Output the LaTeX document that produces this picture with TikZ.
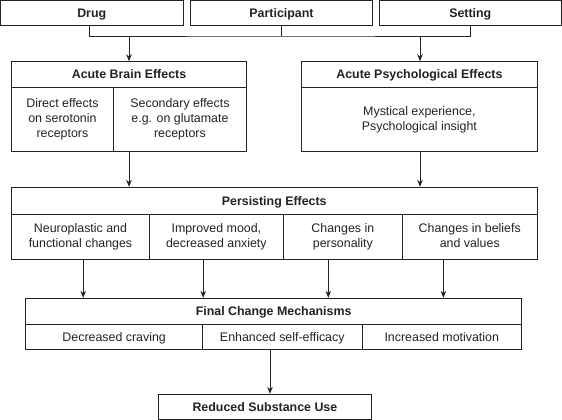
\documentclass[tikz,border=0pt]{standalone}
\usepackage{fontspec}
\setmainfont{Liberation Sans}
\usetikzlibrary{arrows.meta}
\definecolor{ink}{HTML}{222222}
\newcommand\cellstrut{\rule[-2.5pt]{0pt}{13.9pt}}
\tikzset{
  cell/.style={draw=ink, line width=0.9pt, inner sep=0pt, align=center, text=ink,
    font=\fontsize{12.4}{15}\selectfont,
    execute at begin node=\cellstrut, execute at end node=\cellstrut},
  head/.style={cell, font=\fontsize{12.4}{15}\selectfont\bfseries},
  conn/.style={draw=ink, line width=0.9pt},
  arr/.style={conn, -{Stealth[length=7pt,width=5.5pt]}}
}
\begin{document}
\begin{tikzpicture}[x=1pt,y=-1pt]
\useasboundingbox (0,0) rectangle (562,420);
% top row
\node[head, minimum width=182.5, minimum height=24.4] (drug) at (91.75,12.8) {Drug};
\node[head, minimum width=182.5, minimum height=24.4] (part) at (281.5,12.8) {Participant};
\node[head, minimum width=182.3, minimum height=24.4] (sett) at (470.3,12.8) {Setting};
\coordinate (j) at (282,36);
% acute brain
\node[head, minimum width=235.1, minimum height=25.6] (brainh) at (129,74.5) {Acute Brain Effects};
\node[cell, minimum width=101.8, minimum height=64.4] (brain1) at (62.4,119.5) {Direct effects\\on serotonin\\receptors};
\node[cell, minimum width=133.3, minimum height=64.4] (brain2) at (179.95,119.5) {Secondary effects\\e.g. on glutamate\\receptors};
% acute psych
\node[head, minimum width=235.2, minimum height=25.6] (psyh) at (419.4,74.5) {Acute Psychological Effects};
\node[cell, minimum width=235.2, minimum height=64.4] (psyb) at (419.4,119.5) {Mystical experience,\\Psychological insight};
% persisting
\node[head, minimum width=525.5, minimum height=26.7] (perh) at (274.25,200.65) {Persisting Effects};
\node[cell, minimum width=138, minimum height=45] (p1) at (80.5,236.5) {Neuroplastic and\\functional changes};
\node[cell, minimum width=133.7, minimum height=45] (p2) at (216.35,236.5) {Improved mood,\\decreased anxiety};
\node[cell, minimum width=119.3, minimum height=45] (p3) at (342.85,236.5) {Changes in\\personality};
\node[cell, minimum width=134.5, minimum height=45] (p4) at (469.75,236.5) {Changes in beliefs\\and values};
% final
\node[head, minimum width=495.7, minimum height=26] (finh) at (273.65,311.3) {Final Change Mechanisms};
\node[cell, minimum width=176.7, minimum height=24.7] (f1) at (114.15,336.65) {Decreased craving};
\node[cell, minimum width=159.5, minimum height=24.7] (f2) at (282.25,336.65) {Enhanced self-efficacy};
\node[cell, minimum width=159.5, minimum height=24.7] (f3) at (441.75,336.65) {Increased motivation};
% result
\node[head, minimum width=212.2, minimum height=25] (red) at (264.9,406.8) {Reduced Substance Use};
% connector anchors
\coordinate (d1) at ([xshift=-2pt]drug.south);
\coordinate (s1) at ([xshift=0.3pt]sett.south);
\coordinate (pa) at ([xshift=0.6pt]psyh.north);
\coordinate (pb) at ([xshift=0.6pt]psyb.south);
\coordinate (a1) at ([xshift=2.7pt]p1.south);
\coordinate (a2) at ([xshift=-13.15pt]p2.south);
\coordinate (a3) at ([xshift=-14.55pt]p3.south);
\coordinate (a4) at ([xshift=-26.35pt]p4.south);
\coordinate (a5) at ([xshift=-12.25pt]f2.south);
% connectors
\draw[conn] (d1) |- (j) -| (s1);
\draw[conn] (part.south) -- (part.south |- j);
\draw[arr] (brainh.north |- j) -- (brainh.north);
\draw[arr] (pa |- j) -- (pa);
\draw[arr] (brain1.south -| brainh.south) -- (perh.north -| brainh.south);
\draw[arr] (pb) -- (perh.north -| pb);
\draw[arr] (a1) -- (finh.north -| a1);
\draw[arr] (a2) -- (finh.north -| a2);
\draw[arr] (a3) -- (finh.north -| a3);
\draw[arr] (a4) -- (finh.north -| a4);
\draw[arr] (a5) -- (red.north -| a5);
\end{tikzpicture}
\end{document}
